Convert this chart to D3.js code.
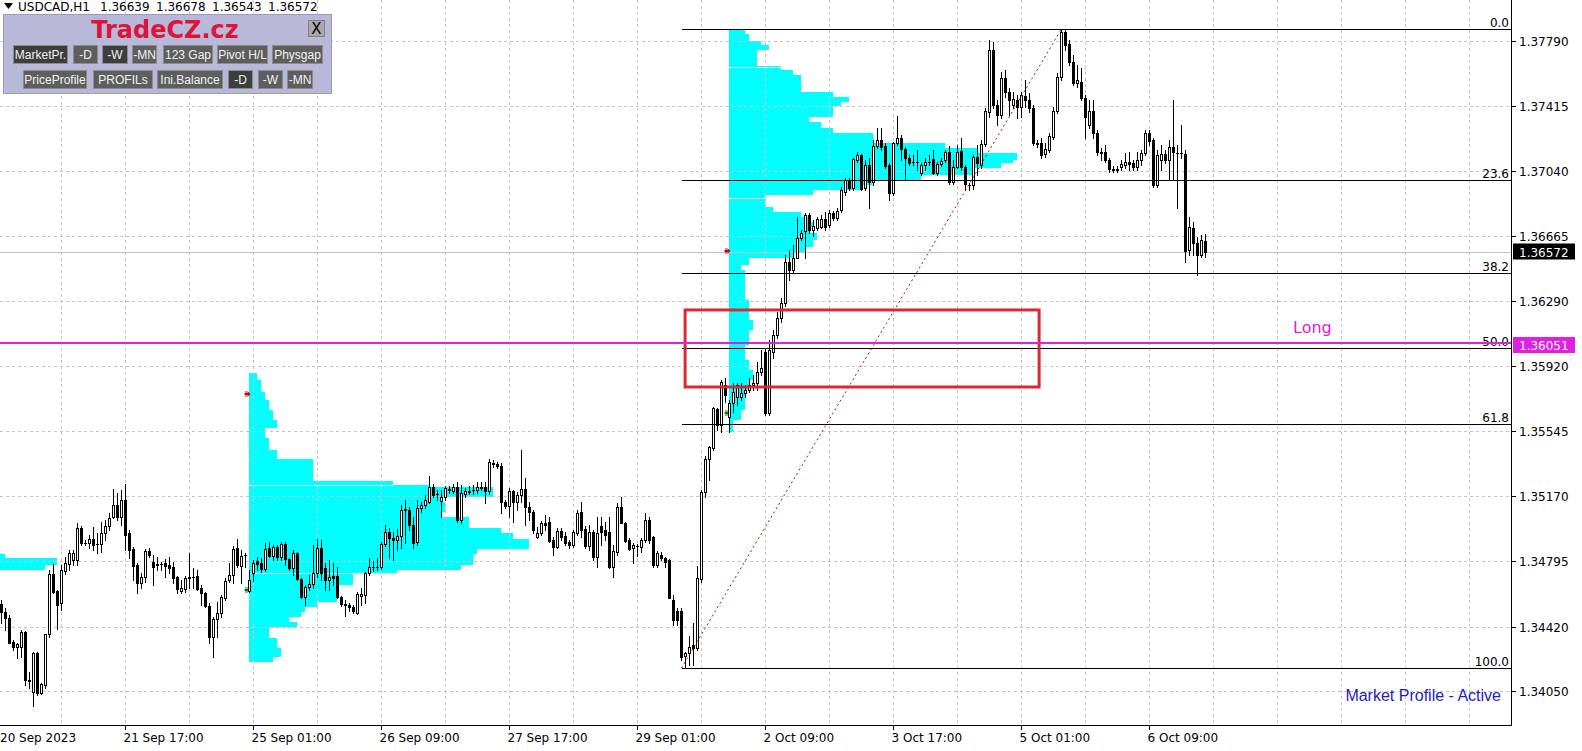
<!DOCTYPE html>
<html><head><meta charset="utf-8">
<script src="https://cdn.jsdelivr.net/npm/d3@7"></script>
<style>body{margin:0;background:#fff;overflow:hidden}svg{display:block}</style>
</head><body><svg id="chart" width="1582" height="751"></svg>
<script>
// ---------------- DATA ----------------
const symbolTitle = "USDCAD,H1";
const headerValues = ["1.36639", "1.36678", "1.36543", "1.36572"];

const barOpen = [
1.34550,1.34504,1.34470,1.34332,1.34303,1.34303,1.34389,1.34113,1.34044,1.34268,
1.34038,1.34084,1.34378,1.34723,1.34625,1.34556,1.34740,1.34780,1.34803,1.34803,
1.34987,1.34901,1.34901,1.34924,1.34895,1.34895,1.34958,1.34999,1.35050,1.35119,
1.35050,1.35148,1.34958,1.34866,1.34774,1.34671,1.34705,1.34855,1.34792,1.34780,
1.34780,1.34786,1.34774,1.34763,1.34705,1.34625,1.34636,1.34700,1.34705,1.34711,
1.34642,1.34613,1.34539,1.34360,1.34464,1.34498,1.34585,1.34688,1.34717,1.34872,
1.34769,1.34832,1.34625,1.34728,1.34797,1.34786,1.34751,1.34872,1.34826,1.34878,
1.34820,1.34895,1.34809,1.34757,1.34843,1.34694,1.34591,1.34648,1.34665,1.34728,
1.34872,1.34757,1.34688,1.34711,1.34711,1.34591,1.34550,1.34544,1.34533,1.34498,
1.34596,1.34602,1.34728,1.34763,1.34763,1.34763,1.34895,1.34964,1.34930,1.34918,
1.34941,1.35091,1.35091,1.35004,1.34907,1.35102,1.35119,1.35137,1.35223,1.35183,
1.35142,1.35165,1.35211,1.35200,1.35223,1.35033,1.35183,1.35194,1.35206,1.35206,
1.35217,1.35223,1.35200,1.35361,1.35355,1.35344,1.35137,1.35114,1.35200,1.35137,
1.35177,1.35211,1.35108,1.35079,1.34935,1.34958,1.35016,1.35022,1.34918,1.34878,
1.34970,1.34941,1.34907,1.34889,1.34958,1.35079,1.34981,1.34884,1.34964,1.34820,
1.34999,1.34976,1.34964,1.34763,1.34849,1.35108,1.35016,1.34918,1.34872,1.34884,
1.34878,1.34918,1.35033,1.34935,1.34774,1.34832,1.34815,1.34803,1.34573,1.34510,
1.34510,1.34251,1.34268,1.34315,1.34297,1.34694,1.35194,1.35384,1.35447,1.35672,
1.35580,1.35810,1.35626,1.35706,1.35741,1.35741,1.35764,1.35781,1.35810,1.35821,
1.35884,1.35999,1.35649,1.35999,1.36097,1.36195,1.36281,1.36517,1.36471,1.36540,
1.36655,1.36695,1.36787,1.36701,1.36712,1.36718,1.36764,1.36730,1.36799,1.36770,
1.36816,1.36919,1.36988,1.36942,1.37103,1.37132,1.36942,1.37075,1.36977,1.37184,
1.37218,1.37184,1.37075,1.36914,1.37201,1.37230,1.37167,1.37115,1.37092,1.37092,
1.37029,1.37075,1.37092,1.37109,1.37029,1.37080,1.37103,1.37149,1.36977,1.37063,
1.37155,1.37063,1.36960,1.36960,1.37121,1.37075,1.37195,1.37379,1.37736,1.37420,
1.37362,1.37575,1.37494,1.37420,1.37448,1.37408,1.37471,1.37448,1.37402,1.37201,
1.37201,1.37138,1.37161,1.37236,1.37385,1.37581,1.37839,1.37770,1.37667,1.37546,
1.37552,1.37460,1.37305,1.37385,1.37259,1.37149,1.37149,1.37103,1.37052,1.37046,
1.37063,1.37075,1.37092,1.37086,1.37063,1.37103,1.37144,1.37259,1.37218,1.36960,
1.37103,1.37138,1.37103,1.37178,1.37144,1.37144,1.37138,1.36586,1.36712,1.36626,
1.36557,1.36639];

const barHigh = [
1.34573,1.34527,1.34487,1.34343,1.34326,1.34401,1.34395,1.34159,1.34274,1.34274,
1.34096,1.34378,1.34746,1.34780,1.34631,1.34774,1.34820,1.34861,1.34861,1.35016,
1.34999,1.34918,1.34947,1.34993,1.34958,1.35022,1.35033,1.35073,1.35211,1.35188,
1.35206,1.35240,1.34976,1.34878,1.34786,1.34728,1.34866,1.34872,1.34832,1.34820,
1.34792,1.34809,1.34820,1.34792,1.34711,1.34688,1.34711,1.34843,1.34757,1.34746,
1.34659,1.34619,1.34556,1.34475,1.34562,1.34602,1.34700,1.34786,1.34884,1.34924,
1.34861,1.34843,1.34746,1.34803,1.34820,1.34815,1.34901,1.34907,1.34889,1.34889,
1.34907,1.34907,1.34815,1.34861,1.34849,1.34700,1.34659,1.34717,1.34889,1.34924,
1.34918,1.34786,1.34803,1.34786,1.34763,1.34596,1.34573,1.34556,1.34544,1.34619,
1.34642,1.34734,1.34815,1.34797,1.34815,1.34907,1.35004,1.34987,1.34964,1.34981,
1.35119,1.35148,1.35108,1.35050,1.35148,1.35137,1.35177,1.35286,1.35240,1.35206,
1.35206,1.35229,1.35229,1.35240,1.35252,1.35234,1.35217,1.35229,1.35234,1.35252,
1.35252,1.35252,1.35384,1.35378,1.35367,1.35361,1.35148,1.35217,1.35206,1.35194,
1.35436,1.35275,1.35137,1.35091,1.34993,1.35027,1.35062,1.35050,1.34935,1.34987,
1.34987,1.34964,1.34918,1.34976,1.35091,1.35137,1.34999,1.35004,1.34976,1.35050,
1.35050,1.35022,1.35050,1.34889,1.35131,1.35165,1.35022,1.34930,1.34901,1.34895,
1.34930,1.35073,1.35050,1.34941,1.34855,1.34849,1.34820,1.34809,1.34602,1.34527,
1.34527,1.34274,1.34366,1.34441,1.34769,1.35206,1.35401,1.35459,1.35683,1.35677,
1.35838,1.35850,1.35723,1.35821,1.35821,1.35821,1.35810,1.35850,1.35867,1.35942,
1.36011,1.36022,1.36068,1.36126,1.36229,1.36310,1.36557,1.36586,1.36615,1.36776,
1.36701,1.36799,1.36799,1.36758,1.36776,1.36787,1.36804,1.36816,1.36810,1.36827,
1.36948,1.37000,1.37000,1.37115,1.37149,1.37138,1.37103,1.37115,1.37218,1.37287,
1.37287,1.37201,1.37086,1.37207,1.37356,1.37247,1.37178,1.37132,1.37132,1.37161,
1.37086,1.37115,1.37132,1.37161,1.37092,1.37115,1.37161,1.37184,1.37103,1.37190,
1.37230,1.37075,1.36971,1.37132,1.37190,1.37218,1.37402,1.37793,1.37782,1.37448,
1.37609,1.37621,1.37517,1.37494,1.37477,1.37494,1.37563,1.37489,1.37420,1.37218,
1.37230,1.37201,1.37259,1.37408,1.37604,1.37857,1.37850,1.37793,1.37707,1.37650,
1.37632,1.37477,1.37448,1.37448,1.37276,1.37172,1.37190,1.37115,1.37069,1.37069,
1.37103,1.37144,1.37149,1.37103,1.37149,1.37161,1.37276,1.37276,1.37230,1.37161,
1.37190,1.37161,1.37218,1.37448,1.37190,1.37305,1.37161,1.36776,1.36747,1.36661,
1.36672,1.36678];

const barLow = [
1.34441,1.34401,1.34326,1.34286,1.34240,1.34245,1.34084,1.34067,1.33964,1.34027,
1.34033,1.34067,1.34360,1.34613,1.34406,1.34516,1.34723,1.34746,1.34774,1.34774,
1.34889,1.34889,1.34872,1.34861,1.34843,1.34849,1.34918,1.34976,1.35045,1.35033,
1.35004,1.34861,1.34815,1.34688,1.34613,1.34642,1.34677,1.34820,1.34659,1.34746,
1.34746,1.34705,1.34728,1.34671,1.34613,1.34613,1.34619,1.34642,1.34642,1.34631,
1.34544,1.34533,1.34326,1.34245,1.34360,1.34475,1.34573,1.34677,1.34671,1.34763,
1.34671,1.34763,1.34619,1.34682,1.34746,1.34734,1.34740,1.34820,1.34803,1.34803,
1.34803,1.34774,1.34746,1.34717,1.34688,1.34585,1.34544,1.34631,1.34642,1.34705,
1.34688,1.34631,1.34631,1.34659,1.34585,1.34539,1.34481,1.34510,1.34498,1.34493,
1.34544,1.34556,1.34717,1.34740,1.34746,1.34751,1.34884,1.34815,1.34803,1.34861,
1.34872,1.34901,1.34976,1.34872,1.34889,1.35079,1.35102,1.35131,1.35165,1.35148,
1.35050,1.35148,1.35188,1.35188,1.35022,1.35016,1.35165,1.35183,1.35183,1.35188,
1.35206,1.35131,1.35183,1.35338,1.35332,1.35073,1.35102,1.35050,1.35022,1.35091,
1.35137,1.35004,1.35033,1.34958,1.34930,1.34947,1.34976,1.34907,1.34832,1.34872,
1.34918,1.34889,1.34872,1.34878,1.34947,1.34935,1.34872,1.34861,1.34803,1.34763,
1.34889,1.34918,1.34757,1.34705,1.34832,1.35016,1.34907,1.34861,1.34786,1.34826,
1.34849,1.34907,1.34901,1.34763,1.34763,1.34803,1.34763,1.34585,1.34430,1.34430,
1.34228,1.34182,1.34200,1.34200,1.34286,1.34677,1.35165,1.35263,1.35436,1.35551,
1.35539,1.35712,1.35539,1.35654,1.35695,1.35723,1.35741,1.35769,1.35781,1.35781,
1.35867,1.35637,1.35637,1.35965,1.36080,1.36172,1.36264,1.36413,1.36459,1.36540,
1.36643,1.36540,1.36684,1.36666,1.36701,1.36712,1.36701,1.36718,1.36758,1.36758,
1.36804,1.36902,1.36931,1.36931,1.37092,1.36931,1.36931,1.36827,1.36960,1.37172,
1.37161,1.37057,1.36873,1.36902,1.37190,1.37103,1.36988,1.37075,1.37075,1.37046,
1.37017,1.37046,1.37075,1.37023,1.37017,1.37069,1.37092,1.36965,1.36965,1.37057,
1.37046,1.36931,1.36931,1.36937,1.37017,1.37057,1.37184,1.37351,1.37402,1.37305,
1.37345,1.37466,1.37362,1.37402,1.37345,1.37351,1.37408,1.37379,1.37190,1.37178,
1.37115,1.37121,1.37149,1.37224,1.37374,1.37563,1.37736,1.37650,1.37535,1.37523,
1.37448,1.37230,1.37287,1.37230,1.37132,1.37103,1.37092,1.37034,1.37034,1.37034,
1.37046,1.37057,1.37046,1.37046,1.37046,1.37075,1.37132,1.37190,1.36948,1.36948,
1.37046,1.37086,1.36988,1.36988,1.36827,1.37115,1.36517,1.36557,1.36557,1.36442,
1.36546,1.36543];

const barClose = [
1.34504,1.34470,1.34326,1.34303,1.34320,1.34389,1.34113,1.34107,1.34268,1.34038,
1.34090,1.34378,1.34723,1.34619,1.34544,1.34746,1.34786,1.34843,1.34843,1.34987,
1.34901,1.34901,1.34924,1.34889,1.34895,1.34958,1.34999,1.35045,1.35119,1.35050,
1.35148,1.34947,1.34861,1.34769,1.34671,1.34705,1.34855,1.34832,1.34763,1.34774,
1.34780,1.34769,1.34757,1.34700,1.34636,1.34642,1.34700,1.34705,1.34705,1.34636,
1.34613,1.34539,1.34360,1.34464,1.34498,1.34591,1.34682,1.34717,1.34866,1.34774,
1.34826,1.34832,1.34688,1.34786,1.34780,1.34751,1.34866,1.34826,1.34878,1.34820,
1.34895,1.34809,1.34757,1.34843,1.34694,1.34591,1.34648,1.34665,1.34728,1.34872,
1.34728,1.34688,1.34705,1.34700,1.34591,1.34550,1.34544,1.34533,1.34510,1.34608,
1.34608,1.34728,1.34763,1.34763,1.34763,1.34895,1.34964,1.34930,1.34918,1.34941,
1.35091,1.35096,1.35004,1.34901,1.35102,1.35119,1.35148,1.35223,1.35177,1.35183,
1.35165,1.35217,1.35206,1.35223,1.35033,1.35188,1.35200,1.35200,1.35206,1.35223,
1.35223,1.35200,1.35367,1.35355,1.35344,1.35137,1.35114,1.35200,1.35137,1.35177,
1.35211,1.35108,1.35079,1.34976,1.34958,1.35016,1.35004,1.34912,1.34878,1.34970,
1.34935,1.34901,1.34889,1.34964,1.35073,1.34976,1.34884,1.34964,1.34820,1.34958,
1.34964,1.34947,1.34763,1.34855,1.35108,1.35016,1.34912,1.34866,1.34889,1.34884,
1.34918,1.35033,1.34918,1.34774,1.34843,1.34815,1.34792,1.34585,1.34458,1.34458,
1.34245,1.34268,1.34303,1.34297,1.34700,1.35194,1.35384,1.35453,1.35677,1.35580,
1.35827,1.35752,1.35706,1.35769,1.35810,1.35764,1.35781,1.35810,1.35821,1.35884,
1.35907,1.35649,1.36011,1.36097,1.36195,1.36281,1.36517,1.36471,1.36540,1.36655,
1.36684,1.36787,1.36701,1.36724,1.36764,1.36764,1.36718,1.36799,1.36770,1.36810,
1.36931,1.36988,1.36942,1.37109,1.37132,1.36937,1.37075,1.36977,1.37184,1.37218,
1.37178,1.37069,1.36914,1.37201,1.37230,1.37167,1.37115,1.37086,1.37092,1.37092,
1.37075,1.37092,1.37092,1.37029,1.37080,1.37098,1.37149,1.36977,1.37063,1.37149,
1.37063,1.36965,1.36960,1.37121,1.37086,1.37195,1.37385,1.37736,1.37420,1.37362,
1.37575,1.37494,1.37448,1.37454,1.37408,1.37477,1.37448,1.37402,1.37201,1.37195,
1.37132,1.37167,1.37241,1.37385,1.37581,1.37839,1.37765,1.37667,1.37546,1.37563,
1.37460,1.37351,1.37385,1.37259,1.37149,1.37144,1.37103,1.37052,1.37046,1.37052,
1.37080,1.37092,1.37080,1.37063,1.37103,1.37144,1.37259,1.37213,1.36960,1.37132,
1.37138,1.37103,1.37178,1.37149,1.37144,1.37144,1.36580,1.36718,1.36626,1.36557,
1.36643,1.36572];

const priceTicks = [1.37790, 1.37415, 1.37040, 1.36665, 1.36290, 1.35920, 1.35545, 1.35170, 1.34795, 1.34420, 1.34050];
const timeLabels = ["20 Sep 2023", "21 Sep 17:00", "25 Sep 01:00", "26 Sep 09:00", "27 Sep 17:00", "29 Sep 01:00", "2 Oct 09:00", "3 Oct 17:00", "5 Oct 01:00", "6 Oct 09:00"];
const timeLabelBars = [0, 31, 63, 95, 127, 159, 191, 223, 255, 287];

// Market profiles (top price of each row, TPO count of row)
const profile0Start = -58;
const profile0Tops = [1.34838, 1.34812, 1.34775];
const profile0Counts = [59, 72, 69];
const profile0Bottom = 1.34746;

const profile1Start = 62;
const profile1Tops = [1.35879,1.35838,1.35769,1.35723,1.35666,1.35608,1.35562,1.35505,1.35436,1.35384,
  1.35258,1.35235,1.35223,1.35166,1.35137,1.35079,1.35051,1.34987,1.34959,1.34924,
  1.34867,1.34838,1.34775,1.34746,1.34723,1.34660,1.34562,1.34533,1.34504,1.34476,
  1.34447,1.34418,1.34355,1.34297,1.34246];
const profile1Counts = [2,3,4,5,6,7,4,5,7,16, 36,45,61,48,49,48,55,63,66,70, 57,56,53,37,26,22,17,14,13,10, 12,5,7,8,6];
const profile1Bottom = 1.34217;
const profile1VAPrices = [1.35235, 1.34730];
const profile1VACounts = [36, 37];

const profile2Start = 182;
const profile2Tops = [1.37857,1.37828,1.37788,1.37765,1.37736,1.37644,1.37621,1.37592,1.37494,1.37466,
  1.37437,1.37414,1.37351,1.37322,1.37287,1.37259,1.37201,1.37172,1.37144,1.37103,
  1.37086,1.37057,1.37017,1.36988,1.36960,1.36931,1.36902,1.36833,1.36804,1.36776,
  1.36747,1.36718,1.36684,1.36643,1.36603,1.36569,1.36540,1.36500,1.36471,1.36298,
  1.36183,1.36126,1.36040,1.35953,1.35896,1.35838,1.35781,1.35666,1.35608];
const profile2Counts = [4,5,8,10,7,13,16,18,26,30, 28,26,20,23,26,36,54,62,72,71, 68,61,48,36,33,21,9,11,18,20, 21,20,22,21,19,16,5,3,4,5, 6,5,4,5,6,5,4,3,1];
const profile2Bottom = 1.35539;
const profile2VAPrices = [1.37638, 1.36885];
const profile2VACounts = [13, 9.5];

const markerBars = [62, 62, 182, 182];
const markerPrices = [1.35755, 1.34628, 1.36580, 1.35649];
const markerKinds = ["high", "low", "high", "low"];

// Fibonacci retracement
const fibLevels = [0.0, 23.6, 38.2, 50.0, 61.8, 100.0];
const fibHigh = 1.37857, fibLow = 1.34182;
const fibLowBar = 170, fibHighBar = 265;

const longPrice = 1.36051;
const longLabel = "Long";
const bidPrice = 1.36572;
const zoneTop = 1.36241, zoneBottom = 1.35798;
const zoneStartBar = 170.9, zoneEndBar = 259.4;
const statusText = "Market Profile - Active";

const panelTitle = "TradeCZ.cz";
const panelRow1 = ["MarketPr.", "-D", "-W", "-MN", "123 Gap", "Pivot H/L", "Physgap"];
const panelRow2 = ["PriceProfile", "PROFILs", "Ini.Balance", "-D", "-W", "-MN"];
const panelRow1Pressed = [true, false, true, false, false, false, false];
const panelRow2Pressed = [false, false, false, true, false, false];

// ---------------- LAYOUT ----------------
const W = 1582, H = 751, PR = 1511, PB = 725;
const F = "'DejaVu Sans', sans-serif";
const FA = "'Liberation Sans', Arial, sans-serif";
const row1Layout = [[13,67],[73,97],[102,127],[132,156],[163,212],[217,267],[272,322]];
const row2Layout = [[23,86],[93,152],[157,222],[228,252],[258,282],[287,312]];

const svg = d3.select('#chart');
svg.append('rect').attr('width', W).attr('height', H).attr('fill', '#fff');

const x = d3.scaleLinear().domain([0, 1]).range([1.5, 5.5]);
const y = d3.scaleLinear().domain([1.34050, 1.37790]).range([691, 40.57]);

svg.append('defs').append('clipPath').attr('id', 'pc')
  .append('rect').attr('x', 0).attr('y', 0).attr('width', PR).attr('height', PB);
const plot = svg.append('g').attr('clip-path', 'url(#pc)');

// profiles
function drawProfile(start, tops, counts, bottom, vaP, vaC) {
  const g = plot.append('g').attr('shape-rendering', 'crispEdges');
  const x0 = x(start) - 0.5;
  tops.forEach((t, k) => {
    const b = k < tops.length - 1 ? tops[k + 1] : bottom;
    const y0 = Math.round(y(t)), y1 = Math.round(y(b));
    g.append('rect').attr('x', x0).attr('y', y0)
      .attr('width', x(start + counts[k]) - x(start)).attr('height', Math.max(1, y1 - y0))
      .attr('fill', '#00ffff');
  });
  if (vaP) vaP.forEach((p, k) => {
    const yy = Math.round(y(p)) + 0.5;
    g.append('line').attr('x1', x0).attr('x2', x0 + x(start + vaC[k]) - x(start))
      .attr('y1', yy).attr('y2', yy).attr('stroke', '#e8ffff').attr('stroke-width', 1);
  });
}
drawProfile(profile0Start, profile0Tops, profile0Counts, profile0Bottom);
drawProfile(profile1Start, profile1Tops, profile1Counts, profile1Bottom, profile1VAPrices, profile1VACounts);
drawProfile(profile2Start, profile2Tops, profile2Counts, profile2Bottom, profile2VAPrices, profile2VACounts);

// grid
const grid = plot.append('g').attr('stroke', '#c4c4c4').attr('stroke-dasharray', '3,3').attr('shape-rendering', 'crispEdges');
priceTicks.forEach(p => {
  const yy = Math.round(y(p)) + 0.5;
  grid.append('line').attr('x1', 0).attr('x2', PR).attr('y1', yy).attr('y2', yy);
});
for (let b = 15; x(b) < PR; b += 16) {
  const xx = Math.floor(x(b)) + 0.5;
  grid.append('line').attr('x1', xx).attr('x2', xx).attr('y1', 0).attr('y2', PB);
}

// bid line
const yBid = Math.round(y(bidPrice)) + 0.5;
plot.append('line').attr('x1', 0).attr('x2', PR).attr('y1', yBid).attr('y2', yBid)
  .attr('stroke', '#c0c0c0').attr('shape-rendering', 'crispEdges');

// markers
markerBars.forEach((b, k) => {
  const cx = x(b) - 2, cy = Math.round(y(markerPrices[k]));
  plot.append('path')
    .attr('d', `M${cx-3},${cy-1} L${cx},${cy-1} L${cx},${cy-3} L${cx+3},${cy} L${cx},${cy+3} L${cx},${cy+1} L${cx-3},${cy+1} Z M${cx-2},${cy-3} L${cx-1},${cy-3} L${cx-1},${cy+3} L${cx-2},${cy+3} Z`)
    .attr('fill', markerKinds[k] === 'high' ? '#e00000' : '#008000');
});

// candles
const cg = plot.append('g').attr('shape-rendering', 'crispEdges');
barOpen.forEach((o, i) => {
  const c = barClose[i], h = barHigh[i], l = barLow[i];
  const px = Math.floor(x(i));
  const yh = Math.round(y(h)), yl = Math.round(y(l));
  const yt = Math.round(y(Math.max(o, c))), yb = Math.round(y(Math.min(o, c)));
  cg.append('line').attr('x1', px + 0.5).attr('x2', px + 0.5).attr('y1', yh).attr('y2', yl + 1)
    .attr('stroke', '#000');
  if (yb - yt <= 0) {
    cg.append('rect').attr('x', px - 1).attr('y', yt).attr('width', 3).attr('height', 1).attr('fill', '#000');
  } else if (c > o) {
    cg.append('rect').attr('x', px - 0.5).attr('y', yt + 0.5).attr('width', 2).attr('height', yb - yt)
      .attr('fill', '#fff').attr('stroke', '#000');
  } else {
    cg.append('rect').attr('x', px - 1).attr('y', yt).attr('width', 3).attr('height', yb - yt + 1).attr('fill', '#000');
  }
});

// fibonacci
const fg = plot.append('g');
const fibX0 = x(fibLowBar);
fibLevels.forEach(lv => {
  const p = fibHigh - (fibHigh - fibLow) * lv / 100;
  const yy = Math.round(y(p)) + 0.5;
  fg.append('line').attr('x1', fibX0).attr('x2', PR).attr('y1', yy).attr('y2', yy)
    .attr('stroke', '#000').attr('shape-rendering', 'crispEdges');
  fg.append('text').attr('x', 1509).attr('y', yy - 3).attr('text-anchor', 'end')
    .attr('font-family', F).attr('font-size', 12).attr('fill', '#000').text(lv.toFixed(1));
});
fg.append('line').attr('x1', x(fibLowBar)).attr('y1', y(fibLow)).attr('x2', x(fibHighBar)).attr('y2', y(fibHigh))
  .attr('stroke', '#a31515').attr('stroke-width', 1).attr('stroke-dasharray', '2,3');

// zone rectangle
plot.append('rect').attr('x', x(zoneStartBar)).attr('y', y(zoneTop))
  .attr('width', x(zoneEndBar) - x(zoneStartBar)).attr('height', y(zoneBottom) - y(zoneTop))
  .attr('fill', 'none').attr('stroke', '#dc2832').attr('stroke-width', 3);

// long line
const yLong = y(longPrice);
plot.append('line').attr('x1', 0).attr('x2', PR).attr('y1', yLong).attr('y2', yLong)
  .attr('stroke', '#e020e0').attr('stroke-width', 2);
svg.append('text').attr('x', 1293).attr('y', yLong - 10).attr('font-family', F).attr('font-size', 16)
  .attr('fill', '#e020e0').text(longLabel);

// status
svg.append('text').attr('x', 1501).attr('y', 701).attr('text-anchor', 'end').attr('font-family', FA)
  .attr('font-size', 16).attr('fill', '#1c1cc8').text(statusText);

// frame
svg.append('line').attr('x1', PR + 0.5).attr('x2', PR + 0.5).attr('y1', 0).attr('y2', PB + 1).attr('stroke', '#000');
svg.append('line').attr('x1', 0).attr('x2', PR + 1).attr('y1', PB + 0.5).attr('y2', PB + 0.5).attr('stroke', '#000');

// price axis
priceTicks.forEach(p => {
  const yy = Math.round(y(p)) + 0.5;
  svg.append('line').attr('x1', PR).attr('x2', PR + 5).attr('y1', yy).attr('y2', yy).attr('stroke', '#000');
  svg.append('text').attr('x', 1519).attr('y', yy + 4.5).attr('font-family', F).attr('font-size', 12)
    .attr('fill', '#000').text(p.toFixed(5));
});
// bid box
svg.append('rect').attr('x', 1513).attr('y', yBid - 9).attr('width', 62).attr('height', 16).attr('fill', '#000');
svg.append('text').attr('x', 1519).attr('y', yBid + 4).attr('font-family', F).attr('font-size', 12)
  .attr('fill', '#fff').text(bidPrice.toFixed(5));
// long box
svg.append('rect').attr('x', 1513).attr('y', yLong - 6).attr('width', 62).attr('height', 16).attr('fill', '#e020e0');
svg.append('text').attr('x', 1519).attr('y', yLong + 6.5).attr('font-family', F).attr('font-size', 12)
  .attr('fill', '#fff').text(longPrice.toFixed(5));

// time axis
timeLabels.forEach((t, k) => {
  const xx = Math.floor(x(timeLabelBars[k])) + 0.5;
  if (k > 0) svg.append('line').attr('x1', xx).attr('x2', xx).attr('y1', PB).attr('y2', PB + 5).attr('stroke', '#000');
  svg.append('text').attr('x', Math.max(0, xx - 2)).attr('y', 742).attr('font-family', F).attr('font-size', 12)
    .attr('fill', '#000').text(t);
});

// header
svg.append('path').attr('d', 'M4,3 L13,3 L8.5,9 Z').attr('fill', '#000');
svg.append('text').attr('x', 18).attr('y', 11).attr('font-family', F).attr('font-size', 12).text(symbolTitle);
headerValues.forEach((v, k) => {
  svg.append('text').attr('x', 100 + 56 * k).attr('y', 11).attr('font-family', F).attr('font-size', 12).text(v);
});

// panel
const pg = svg.append('g');
pg.append('rect').attr('x', 3.5).attr('y', 14.5).attr('width', 328).attr('height', 79)
  .attr('fill', '#b8b8d8').attr('stroke', '#9a9abc');
pg.append('text').attr('x', 165).attr('y', 38).attr('text-anchor', 'middle').attr('font-family', F)
  .attr('font-weight', 'bold').attr('font-size', 24).attr('fill', '#dc143c').text(panelTitle);
pg.append('rect').attr('x', 308.5).attr('y', 20.5).attr('width', 16).attr('height', 16)
  .attr('fill', '#a8a8a8').attr('stroke', '#808080');
pg.append('text').attr('x', 316.5).attr('y', 34).attr('text-anchor', 'middle').attr('font-family', F)
  .attr('font-size', 15).attr('fill', '#000').text('X');
function drawButtons(labels, layout, pressed, y0) {
  labels.forEach((lab, k) => {
    const [a, b] = layout[k];
    pg.append('rect').attr('x', a + 0.5).attr('y', y0 + 0.5).attr('width', b - a).attr('height', 18)
      .attr('fill', pressed[k] ? '#3e3e3e' : '#5e5e5e').attr('stroke', '#8c8c8c');
    pg.append('text').attr('x', (a + b) / 2 + 0.5).attr('y', y0 + 14).attr('text-anchor', 'middle')
      .attr('font-family', FA).attr('font-size', 12).attr('fill', '#f2f2f2').text(lab);
  });
}
drawButtons(panelRow1, row1Layout, panelRow1Pressed, 45);
drawButtons(panelRow2, row2Layout, panelRow2Pressed, 70);
</script>
</body></html>
